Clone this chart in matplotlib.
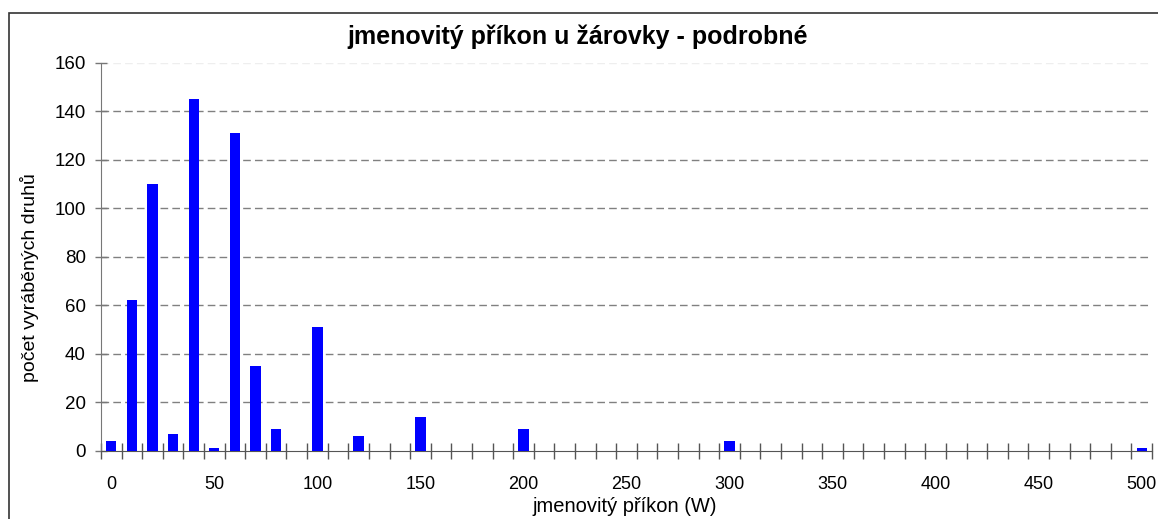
import matplotlib.pyplot as plt
from matplotlib.patches import Rectangle

plt.rcParams['font.family'] = ['Liberation Sans', 'DejaVu Sans']

# jmenovitý příkon (W) a počet druhů
prikon = [0, 10, 20, 30, 40, 50, 60, 70, 80, 100, 120, 150, 200, 300, 500]
pocet = [4, 62, 110, 7, 145, 1, 131, 35, 9, 51, 6, 14, 9, 4, 1]
y_ticks = [0, 20, 40, 60, 80, 100, 120, 140, 160]
x_labels = [0, 50, 100, 150, 200, 250, 300, 350, 400, 450, 500]

W, H = 1158, 519
fig = plt.figure(figsize=(W / 100, H / 100), dpi=100)
ax = fig.add_axes([101 / W, 1 - 450.7 / H, (1152 - 101) / W, (450.7 - 62.7) / H])

ax.bar(prikon, pocet, width=5, color='#0000ff', zorder=3)

ax.set_xlim(-5, 505)
ax.set_ylim(0, 160)

# mřížka
for y in y_ticks[1:-1]:
    ax.axhline(y, color='#808080', lw=1, ls=(0, (5.5, 3)), zorder=1)
ax.axhline(160, color='#eeeeee', lw=1, ls=(0, (5.5, 3)), zorder=1)

ax.set_yticks(y_ticks)
ax.tick_params(axis='y', direction='inout', length=8, width=1, color='#777777',
               labelsize=13.5, pad=7)

# dílky mezi kategoriemi, popisky po 50
ax.set_xticks(x_labels)
ax.set_xticklabels([str(v) for v in x_labels])
ax.tick_params(axis='x', which='major', length=0, labelsize=13, pad=18)
ax.set_xticks([-5 + 10 * i for i in range(52)], minor=True)
ax.tick_params(axis='x', which='minor', direction='inout', length=12, width=1,
               color='#555555')

for s in ['top', 'right']:
    ax.spines[s].set_visible(False)
ax.spines['left'].set_color('#777777')
ax.spines['bottom'].set_color('#555555')

fig.text(625 / W, 1 - 507 / H, 'jmenovitý příkon (W)', ha='center', va='center',
         fontsize=14.5)
fig.text(30 / W, 1 - 278 / H, 'počet vyráběných druhů', ha='center', va='center',
         rotation=90, fontsize=14)
fig.text(578 / W, 1 - 37 / H, 'jmenovitý příkon u žárovky - podrobné',
         ha='center', va='center', fontsize=18, fontweight='bold')

fig.patches.append(Rectangle((9 / W, -0.01), 1.0, 1 - 12.7 / H + 0.01,
                             transform=fig.transFigure, fill=False,
                             edgecolor='#333333', lw=1.2))

fig.savefig('out.png', dpi=100)
